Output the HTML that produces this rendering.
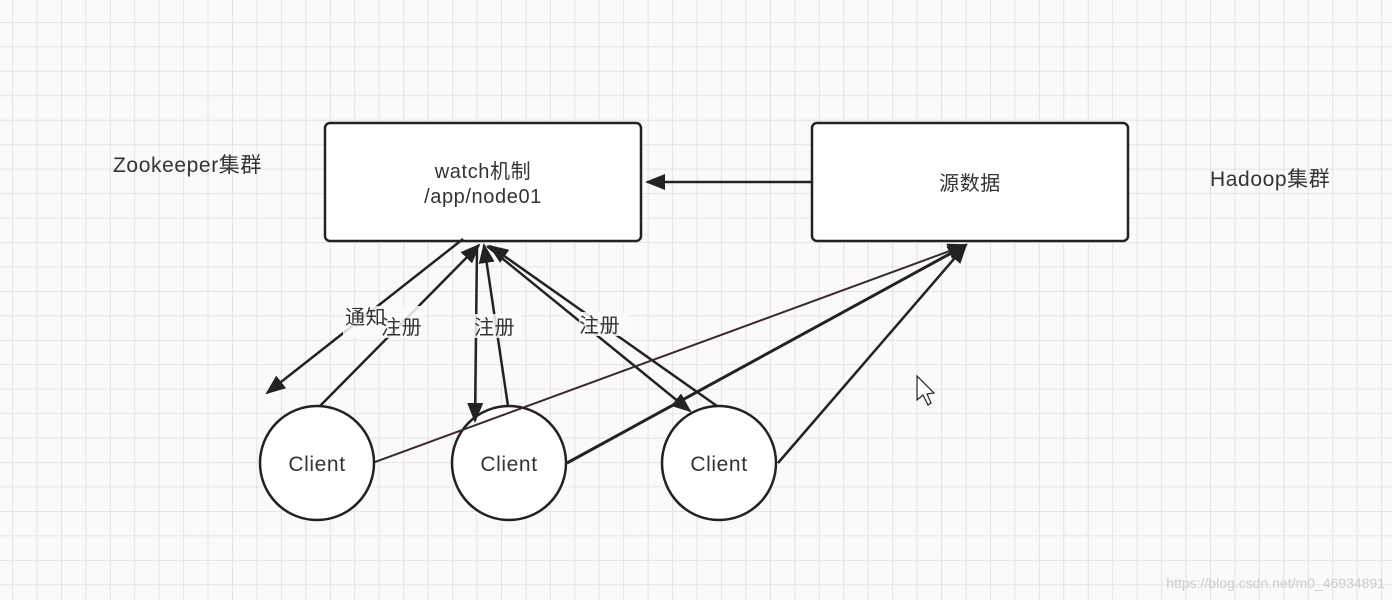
<!DOCTYPE html>
<html><head><meta charset="utf-8"><style>
body{margin:0;background:#fafafa}
svg{display:block}
text{font-family:"Liberation Sans","Noto Sans CJK SC",sans-serif;fill:#333;letter-spacing:0.6px}
</style></head><body>
<svg width="1392" height="600" xmlns="http://www.w3.org/2000/svg">
<defs>
<pattern id="g" width="24.45" height="24.45" patternUnits="userSpaceOnUse" x="12" y="22">
<path d="M0 0H24.45M0 0V24.45" stroke="#dedede" stroke-width="1.6" fill="none"/>
</pattern>
<marker id="b" markerWidth="20" markerHeight="16" refX="18" refY="8" orient="auto" markerUnits="userSpaceOnUse" viewBox="0 0 20 16">
<path d="M0 0L20 8L0 16Z" fill="#222"/>
</marker>
</defs>
<rect width="1392" height="600" fill="#fafafa"/>
<rect width="1392" height="600" fill="url(#g)"/>
<rect x="325" y="123" width="316" height="118" rx="5" fill="#fff" stroke="#222" stroke-width="2.5"/>
<rect x="812" y="123" width="316" height="118" rx="5" fill="#fff" stroke="#222" stroke-width="2.5"/>
<text x="483" y="178" font-size="20" text-anchor="middle">watch机制</text>
<text x="483" y="203" font-size="20" text-anchor="middle">/app/node01</text>
<text x="970" y="190" font-size="20" text-anchor="middle">源数据</text>
<text x="113" y="172" font-size="21">Zookeeper集群</text>
<text x="1210" y="186" font-size="21">Hadoop集群</text>
<g fill="#fff" stroke="#222" stroke-width="2.5">
<circle cx="317" cy="463" r="57"/>
<circle cx="509" cy="463" r="57"/>
<circle cx="719" cy="463" r="57"/>
</g>
<g stroke="#222" stroke-width="2.5" fill="none">
<line x1="812" y1="182" x2="647" y2="182" marker-end="url(#b)"/>
<line x1="463" y1="239" x2="267" y2="393" marker-end="url(#b)"/>
<line x1="320" y1="406" x2="479" y2="245" marker-end="url(#b)"/>
<line x1="477" y1="247" x2="475" y2="421" marker-end="url(#b)"/>
<line x1="508" y1="406" x2="484" y2="245" marker-end="url(#b)"/>
<line x1="487" y1="246" x2="690" y2="411" marker-end="url(#b)"/>
<line x1="717" y1="406" x2="490" y2="246" marker-end="url(#b)"/>
<line x1="375" y1="462" x2="966" y2="245" marker-end="url(#b)" stroke="#3a2a2a" stroke-width="2"/>
<line x1="567" y1="463" x2="966" y2="245" marker-end="url(#b)" stroke-width="3"/>
<line x1="778" y1="463" x2="966" y2="245" marker-end="url(#b)"/>
</g>
<g fill="#fafafa">
<rect x="343" y="306" width="82" height="32" fill-opacity="0.85"/>
<rect x="474" y="314" width="48" height="24" fill-opacity="0.85"/>
<rect x="579" y="312" width="48" height="24" fill-opacity="0.85"/>
</g>
<text x="345" y="324" font-size="20">通知</text>
<text x="381" y="334" font-size="20">注册</text>
<text x="474" y="334" font-size="20">注册</text>
<text x="579" y="332" font-size="20">注册</text>
<text x="317" y="471" font-size="21" text-anchor="middle">Client</text>
<text x="509" y="471" font-size="21" text-anchor="middle">Client</text>
<text x="719" y="471" font-size="21" text-anchor="middle">Client</text>
<path d="M917 376L917 400L923 395L928 405L931 403L927 394L934 393Z" fill="#fff" stroke="#222" stroke-width="1.2"/>
<text x="1385" y="588" font-size="14" text-anchor="end" style="fill:#ccc;letter-spacing:0">https://blog.csdn.net/m0_46934891</text>
</svg>
</body></html>
